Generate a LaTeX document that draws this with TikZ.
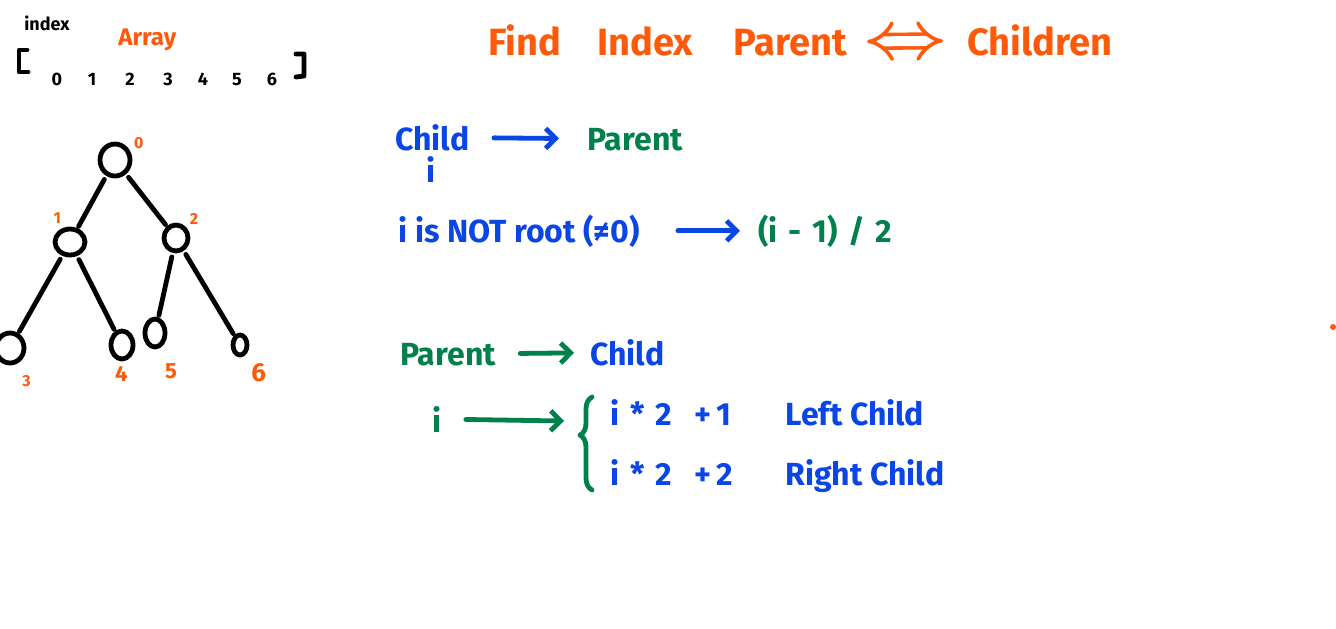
\documentclass[tikz,border=0pt]{standalone}
\usepackage{fontspec}
\setmainfont{Fira Sans}
\usetikzlibrary{arrows.meta}
\usetikzlibrary{shapes.geometric}
\usetikzlibrary{decorations.pathreplacing}
\definecolor{inkorange}{HTML}{FF5A0A}
\definecolor{inkblue}{HTML}{0A46E6}
\definecolor{inkgreen}{HTML}{00804A}

\begin{document}
\begin{tikzpicture}[x=0.5pt, y=-0.5pt,
		ink/.style={line width=2.4pt, line cap=round, line join=round},
		word/.style={inner sep=0pt, anchor=base west, font=\fontsize{16}{18}\selectfont\bfseries},
		headword/.style={word, text=inkorange, font=\fontsize{19}{22}\selectfont\bfseries},
		digit/.style={inner sep=0pt, anchor=base, font=\fontsize{9}{10}\selectfont\bfseries},
		leaf/.style={ellipse, draw, ink, inner sep=0pt},
		tag/.style={text=inkorange, inner sep=0pt, label distance=2pt, font=\fontsize{8}{9}\selectfont\bfseries},
		goes/.style={ink, -{Straight Barb[length=5pt, width=10pt]}, shorten <=12pt, shorten >=14pt}]
			\fill[white] (0,0) rectangle (1336,628);
			\useasboundingbox (0,0) rectangle (1336,628);
			\node[inner sep=0pt, anchor=base west, font=\fontsize{9}{10}\selectfont\bfseries] (idxword) at (24,30) {index};
			\node[inner sep=0pt, anchor=base west, text=inkorange, font=\fontsize{12}{14}\selectfont\bfseries] (arrword) at (118,45) {Array};
			\draw[ink] (27,50) -- (19,50) -- (19,72) -- (28,72);
			\draw[ink] (296,54) -- (304,54) -- (304,76) -- (296,77);
			\foreach \d/\x in {0/57, 1/92, 2/130, 3/168, 4/203, 5/237, 6/272}
				\node[digit] (a\d) at (\x,85) {\d};
			\node[leaf, minimum width=15pt, minimum height=16pt, label={[tag]30:0}] (n0) at (115,160) {};
			\node[leaf, minimum width=15pt, minimum height=13pt, label={[tag]116:1}] (n1) at (70,242) {};
			\node[leaf, minimum width=12pt, minimum height=13pt, label={[tag]45:2}] (n2) at (176,238) {};
			\node[leaf, minimum width=14pt, minimum height=15pt, label={[tag, label distance=6pt]-66:3}] (n3) at (10,348) {};
			\node[leaf, minimum width=11pt, minimum height=14pt, label={[tag, font=\fontsize{11}{12}\selectfont\bfseries]-92:4}] (n4) at (122,345) {};
			\node[leaf, minimum width=10pt, minimum height=14pt, label={[tag, label distance=8pt, font=\fontsize{11}{12}\selectfont\bfseries]-72:5}] (n5) at (155,333) {};
			\node[leaf, minimum width=7pt, minimum height=10pt, label={[tag, label distance=5pt, font=\fontsize{13}{14}\selectfont\bfseries]-59:6}] (n6) at (240,345) {};
			\foreach \a/\b in {n0/n1, n0/n2, n1/n3, n1/n4, n2/n5, n2/n6}
				\draw[ink, shorten <=2pt, shorten >=1pt] (\a) -- (\b);
			\node[headword] (tfind) at (488,55) {Find};
			\node[headword] (tindex) at (597,55) {Index};
			\node[headword] (tpar) at (733,55) {Parent};
			\node[headword] (tchild) at (967,55) {Children};
			\draw[inkorange, line width=1.8pt, double, double distance=5pt, {Implies}-{Implies}, shorten <=10pt, shorten >=12pt] (tpar) -- (tchild);
			\node[word, text=inkblue] (cname) at (395,150) {Child};
			\node[word, text=inkgreen] (pname) at (587,150) {Parent};
			\draw[goes, inkblue] (cname) -- (pname);
			\node[word, text=inkblue] (ci) at (426,182) {i};
			\node[word, text=inkblue] (cond) at (398,242) {i is NOT root (≠0)};
			\node[word, text=inkgreen] (pidx) at (758,242) {(i\,\,-\,\,1)\,\,/\,\,2};
			\draw[goes, inkblue, shorten <=19pt, shorten >=9pt] (cond) -- (pidx);
			\node[word, text=inkgreen] (pname2) at (400,365) {Parent};
			\node[word, text=inkblue] (cname2) at (590,365) {Child};
			\draw[goes, inkgreen, shorten >=8pt] (pname2) -- (cname2);
			\node[word, text=inkgreen] (pi) at (432,432) {i};
			\coordinate (bracebot) at (592,490);
			\coordinate (bracetop) at (592,397);
			\coordinate (tip) at (564,421);
			\draw[ink, inkgreen, decorate, decoration={brace, amplitude=6pt, aspect=0.59}] (bracebot) -- (bracetop);
			\draw[goes, inkgreen, shorten >=0pt] (pi) -- (tip);
			\node[word, text=inkblue] (lexpr) at (610,425) {i\,\,*\,\,2 \ \ +\,1};
			\node[word, text=inkblue] (lname) at (785,425) {Left Child};
			\node[word, text=inkblue] (rexpr) at (610,485) {i\,\,*\,\,2 \ \ +\,2};
			\node[word, text=inkblue] (rname) at (785,485) {Right Child};
			\fill[inkorange] (1333,327) circle (1.5pt);
		\end{tikzpicture}
\end{document}
